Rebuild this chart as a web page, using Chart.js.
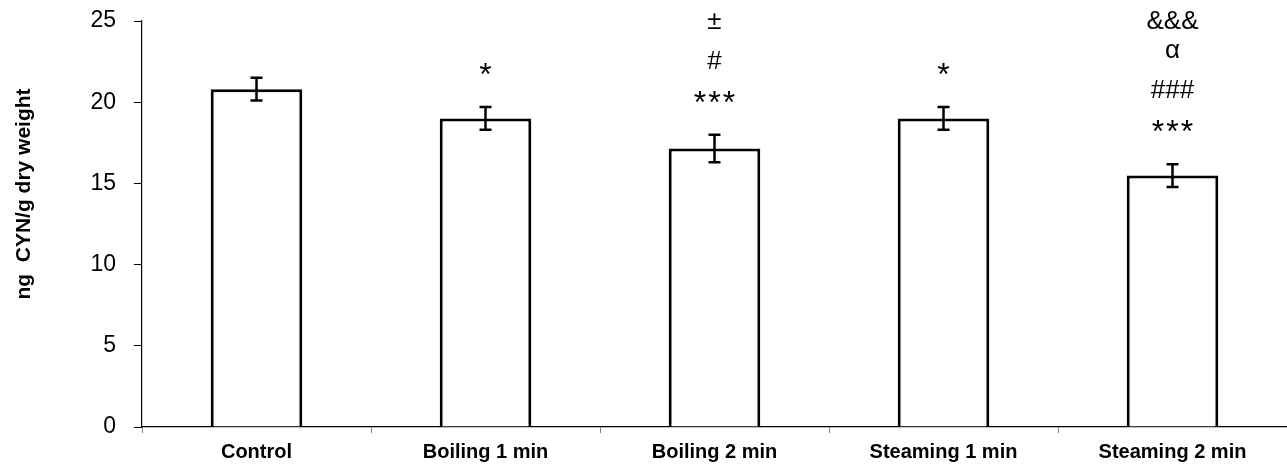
<!DOCTYPE html>
<html lang="en">
<head>
    <meta charset="UTF-8">
    <title>CYN content</title>
    <script src="https://cdn.jsdelivr.net/npm/chart.js"></script>
    <style>
        body { margin: 0; background: #fff; }
        #wrap { width: 1287px; height: 469px; }
    </style>
</head>
<body>
    <div id="wrap"><canvas id="chart" width="1287" height="469"></canvas></div>

    <script>
        // Data
        const categories = ['Control', 'Boiling 1 min', 'Boiling 2 min', 'Steaming 1 min', 'Steaming 2 min'];
        const cynValues = [20.8, 19.0, 17.15, 19.0, 15.48];
        const cynErrors = [0.7, 0.7, 0.85, 0.7, 0.7];
        const significance = [
            [],
            ['*'],
            ['***', '#', '±'],
            ['*'],
            ['***', '###', 'α', '&&&']
        ];
        const yTicks = [0, 5, 10, 15, 20, 25];

        // Distance (px) of each significance line above the error bar top
        const markOffsets = [38, 73, 113, 142];

        const errorBars = {
            id: 'errorBars',
            afterDatasetsDraw(chart) {
                const ctx = chart.ctx;
                const meta = chart.getDatasetMeta(0);
                const y = chart.scales.y;
                ctx.save();
                ctx.strokeStyle = '#000';
                ctx.lineWidth = 2.5;
                meta.data.forEach((bar, i) => {
                    const top = y.getPixelForValue(cynValues[i] + cynErrors[i]);
                    const bottom = y.getPixelForValue(cynValues[i] - cynErrors[i]);
                    ctx.beginPath();
                    ctx.moveTo(bar.x, top);
                    ctx.lineTo(bar.x, bottom);
                    ctx.moveTo(bar.x - 6, top);
                    ctx.lineTo(bar.x + 6, top);
                    ctx.moveTo(bar.x - 6, bottom);
                    ctx.lineTo(bar.x + 6, bottom);
                    ctx.stroke();

                    // significance marks
                    ctx.fillStyle = '#000';
                    ctx.textAlign = 'center';
                    ctx.textBaseline = 'middle';
                    significance[i].forEach((txt, k) => {
                        const star = txt.includes('*');
                        ctx.font = (star ? '32px' : '26px') + ' "Liberation Sans", Arial, sans-serif';
                        ctx.letterSpacing = star ? '2px' : '0px';
                        ctx.fillText(txt, bar.x + (star ? 1 : 0), top - markOffsets[k] + (star ? 7 : 0));
                    });
                });
                ctx.restore();
            }
        };

        const yTitle = {
            id: 'yTitle',
            afterDraw(chart) {
                const ctx = chart.ctx;
                ctx.save();
                ctx.translate(24, 194);
                ctx.rotate(-Math.PI / 2);
                ctx.font = 'bold 21px "Liberation Sans", Arial, sans-serif';
                ctx.fillStyle = '#000';
                ctx.textAlign = 'center';
                ctx.textBaseline = 'middle';
                ctx.fillText('ng  CYN/g dry weight', 0, 0);
                ctx.restore();
            }
        };

        new Chart(document.getElementById('chart'), {
            type: 'bar',
            data: {
                labels: categories,
                datasets: [{
                    data: cynValues,
                    backgroundColor: '#fff',
                    borderColor: '#000',
                    borderWidth: 3,
                    barPercentage: 0.4,
                    categoryPercentage: 1.0
                }]
            },
            options: {
                responsive: false,
                animation: false,
                layout: { padding: { top: 21, right: 0, left: 0, bottom: 0 } },
                plugins: {
                    legend: { display: false },
                    tooltip: { enabled: false }
                },
                scales: {
                    x: {
                        offset: true,
                        grid: {
                            offset: true,
                            drawOnChartArea: false,
                            tickLength: 6,
                            color: '#808080'
                        },
                        border: { color: '#000', width: 1.2 },
                        ticks: {
                            color: '#000',
                            padding: 7,
                            maxRotation: 0,
                            font: { family: '"Liberation Sans", Arial, sans-serif', size: 20, weight: 'bold' }
                        },
                        afterFit(scale) {
                            scale.height = 42;
                            scale.paddingLeft = 0;
                            scale.paddingRight = 0;
                        }
                    },
                    y: {
                        min: 0,
                        max: 25,
                        afterBuildTicks(scale) {
                            scale.ticks = yTicks.map(v => ({ value: v }));
                        },
                        grid: {
                            drawOnChartArea: false,
                            tickLength: 8,
                            color: '#000'
                        },
                        border: { color: '#000', width: 1.2 },
                        ticks: {
                            color: '#000',
                            padding: 18,
                            font: { family: '"Liberation Sans", Arial, sans-serif', size: 23 }
                        },
                        afterFit(scale) {
                            scale.width = 142;
                            scale.paddingTop = 0;
                            scale.paddingBottom = 0;
                        }
                    }
                }
            },
            plugins: [errorBars, yTitle]
        });
    </script>
</body>
</html>
